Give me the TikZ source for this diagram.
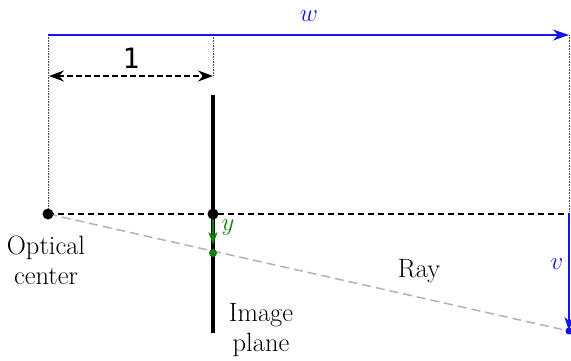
\documentclass[tikz,border=0pt]{standalone}
\usepackage{fontspec}
\newfontfamily\monofont{DejaVu Sans Mono}
\usetikzlibrary{arrows.meta}
\definecolor{myblue}{RGB}{20,20,235}
\definecolor{mygreen}{RGB}{10,130,10}
\tikzset{
  lbl/.style={font=\fontsize{25}{28}\selectfont, inner sep=1pt},
  txt/.style={font=\fontsize{26.5}{30}\selectfont, inner sep=1pt, align=center},
  guide/.style={densely dotted, line width=0.6pt, gray!60!black},
  dot/.style={circle, fill, inner sep=0pt, minimum size=#1},
}
\begin{document}
\begin{tikzpicture}[x=1pt,y=-1pt]
\useasboundingbox (0,0) rectangle (571,361);
% coordinates
\coordinate (O) at (48,214);
\coordinate (P) at (213,214);
\coordinate (E) at (569,214);
\coordinate (Wl) at (48,35);
\coordinate (Wr) at (569,35);
\coordinate (Pt) at (213,35);
\coordinate (Ptop) at (213,95);
\coordinate (Pbot) at (213,333);
\coordinate (Ol) at (49,76);
\coordinate (Pl) at (213,76);
\coordinate (R) at (569,331);
\coordinate (G) at (213,253);
\coordinate (Gt) at (213,245);
% guides
\draw[guide] (Wl) -- (O);
\draw[guide] (Pt) -- (Pl);
\draw[guide] (Wr) -- (E);
% image plane
\draw[line width=4pt] (Ptop) -- (Pbot);
% optical axis
\draw[line width=1.8pt, dash pattern=on 6pt off 4pt] (O) -- (E);
% ray
\draw[line width=1.5pt, gray!60, dash pattern=on 9pt off 5pt] (O) -- (R);
% w arrow
\draw[myblue, line width=2pt, -{Stealth[length=16pt,width=11pt,inset=5pt]}] (Wl) -- (Wr);
\node[lbl, text=myblue] (wl) at (309,16) {$w$};
% 1 arrow
\draw[line width=1.8pt, dash pattern=on 6pt off 3pt, {Stealth[length=15pt,width=11pt,inset=5pt]}-{Stealth[length=15pt,width=11pt,inset=5pt]}] (Ol) -- (Pl);
\node[font=\monofont\fontsize{28}{30}\selectfont, inner sep=0pt] (one) at (131,58) {1};
% v arrow
\draw[myblue, line width=2pt, -{Stealth[length=14pt,width=9pt,inset=4pt]}] (E) -- (R);
\node[lbl, text=myblue] (vl) at (557,264) {$v$};
% y arrow
\draw[mygreen, line width=2pt, -{Stealth[length=13pt,width=9pt,inset=4pt]}] (P) -- (Gt);
\node[lbl, text=mygreen] (yl) at (228,228) {$y$};
% dots
\node[dot=11pt] (Od) at (O) {};
\node[dot=11pt] (Pd) at (P) {};
\node[dot=8pt, fill=mygreen] (Gd) at (G) {};
\node[dot=7pt, fill=myblue] (Rd) at (R) {};
% labels
\node[txt] (oc) at (46,260) {Optical\\center};
\node[txt] (ip) at (261,330) {Image\\plane};
\node[txt] (ray) at (419,271) {Ray};
\end{tikzpicture}
\end{document}
